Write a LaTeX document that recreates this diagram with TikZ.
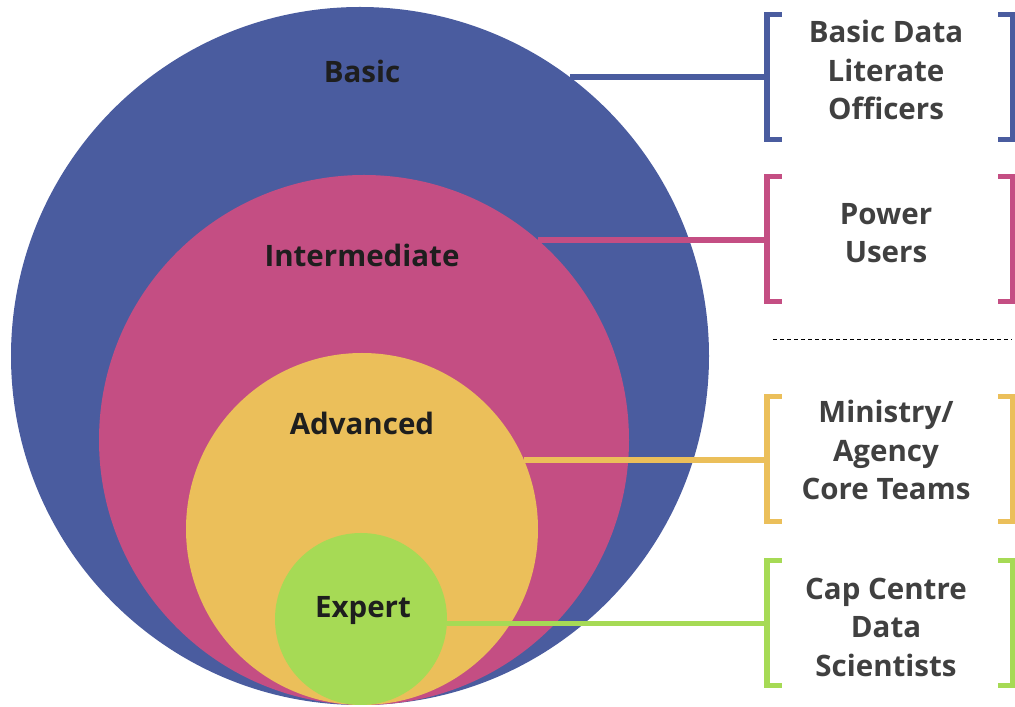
\documentclass[tikz,border=0pt]{standalone}
\usepackage{fontspec}
\setmainfont{Open Sans}
\usepackage{tikz}
\definecolor{cblue}{HTML}{4A5C9F}
\definecolor{cpink}{HTML}{C44E83}
\definecolor{cyellow}{HTML}{EBBF5A}
\definecolor{cgreen}{HTML}{A6DA55}
\definecolor{ctext}{HTML}{404040}
\definecolor{cdark}{HTML}{1E1E1E}

\begin{document}
\begin{tikzpicture}[x=1pt,y=1pt,
	ring/.style={shape=circle,inner sep=0pt},
	lvl/.style={anchor=base,text=cdark,font=\fontsize{29.5}{35}\selectfont\bfseries},
	box/.style={minimum width=246pt,minimum height=125pt,inner sep=0pt},
	grp/.style={inner sep=0pt,align=center,text=ctext,font=\fontsize{29.5}{38.5}\selectfont\bfseries},
	brk/.style={line width=5.5pt},
	lnk/.style={line width=5.5pt}]
	\useasboundingbox (0,0) rectangle (1015,707);

	\node[ring,fill=cblue,minimum size=698pt]   (basic)  at (360,351) {};
	\node[ring,fill=cpink,minimum size=530pt]   (inter)  at (364,267) {};
	\node[ring,fill=cyellow,minimum size=352pt] (adv)    at (362,178) {};
	\node[ring,fill=cgreen,minimum size=172pt]  (expert) at (361,88)  {};

	\node[lvl] (tbasic)  at (362,624) {Basic};
	\node[lvl] (tinter)  at (362,440) {Intermediate};
	\node[lvl] (tadv)    at (362,272) {Advanced};
	\node[lvl] (texpert) at (363,89)  {Expert};

	\node[box] (bbasic)  at (890,630) {};
	\node[box] (binter)  at (890,468) {};
	\node[box] (badv)    at (890,248) {};
	\node[box] (bexpert) at (890,84)  {};

	\node[grp] (gbasic)  at (886,637) {Basic Data\\Literate\\Officers};
	\node[grp] (ginter)  at (886,474) {Power\\Users};
	\node[grp] (gadv)    at (886,257) {Ministry/\\Agency\\Core Teams};
	\node[grp] (gexpert) at (886,80)  {Cap Centre\\Data\\Scientists};

	% brackets
	\draw[brk,cblue] ([xshift=15pt]bbasic.north west) -| (bbasic.south west) -- ++(15,0);
	\draw[brk,cblue] ([xshift=-15pt]bbasic.north east) -| (bbasic.south east) -- ++(-15,0);
	\draw[brk,cpink] ([xshift=15pt]binter.north west) -| (binter.south west) -- ++(15,0);
	\draw[brk,cpink] ([xshift=-15pt]binter.north east) -| (binter.south east) -- ++(-15,0);
	\draw[brk,cyellow] ([xshift=15pt]badv.north west) -| (badv.south west) -- ++(15,0);
	\draw[brk,cyellow] ([xshift=-15pt]badv.north east) -| (badv.south east) -- ++(-15,0);
	\draw[brk,cgreen] ([xshift=15pt]bexpert.north west) -| (bexpert.south west) -- ++(15,0);
	\draw[brk,cgreen] ([xshift=-15pt]bexpert.north east) -| (bexpert.south east) -- ++(-15,0);

	% links
	\draw[lnk,cblue]   (basic.53)  -- (basic.53 -| bbasic.west);
	\draw[lnk,cpink]   (inter.49)  -- (inter.49 -| binter.west);
	\draw[lnk,cyellow] (adv.23)    -- (adv.23 -| badv.west);
	\draw[lnk,cgreen]  (expert.-3) -- (expert.-3 -| bexpert.west);

	\coordinate (d1) at (773,367);
	\coordinate (d2) at (1012,367);
	\draw[line width=1pt,dash pattern=on 4pt off 3pt] (d1) -- (d2);
\end{tikzpicture}
\end{document}
